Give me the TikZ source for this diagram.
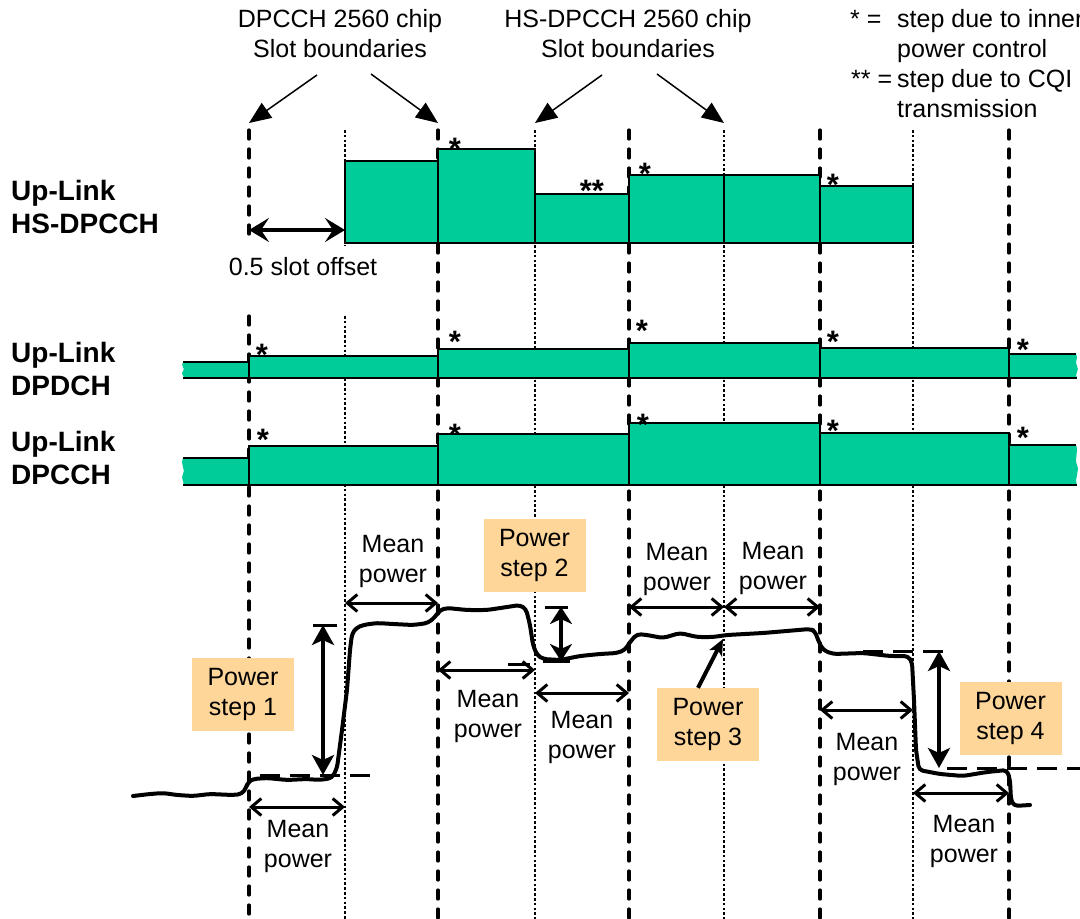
\documentclass[tikz,border=0pt]{standalone}
\usepackage{fontspec}
\setmainfont{Liberation Sans}
\usetikzlibrary{arrows.meta}
\definecolor{chgreen}{RGB}{0,204,153}
\definecolor{boxorange}{RGB}{255,214,153}
\begin{document}
\begin{tikzpicture}[x=1pt,y=-1pt,
  txt/.style={font=\fontsize{25}{30}\selectfont, inner sep=0pt, align=center},
  chlbl/.style={font=\fontsize{28}{33.5}\selectfont\bfseries, inner sep=0pt, align=left, anchor=north west},
  starlbl/.style={font=\fontsize{31}{31}\selectfont\bfseries, inner sep=0pt, anchor=base},
  slotdash/.style={line width=3.2pt, dash pattern=on 9pt off 10pt, line cap=round},
  slotdot/.style={line width=2.6pt, dash pattern=on 2.6pt off 2.2pt},
  bar/.style={fill=chgreen, draw=black, line width=1.8pt},
  edgeline/.style={draw=black, line width=1.8pt},
  pointer/.style={line width=1.5pt, -{Triangle[length=22pt,width=18pt]}},
  offsetarrow/.style={line width=4pt, {Stealth[length=20pt,width=24pt,inset=8pt]}-{Stealth[length=20pt,width=24pt,inset=8pt]}},
  meanarrow/.style={line width=3pt, {Straight Barb[length=10pt,width=17pt]}-{Straight Barb[length=10pt,width=17pt]}},
  steparrow/.style={line width=4pt, {Stealth[length=20pt,width=22pt,inset=5pt]}-{Stealth[length=20pt,width=22pt,inset=5pt]}},
  curve/.style={line width=4pt, rounded corners=4pt, line join=round, line cap=round},
  stepbox/.style={fill=boxorange, inner sep=0pt, minimum width=102pt, minimum height=73pt, align=center, font=\fontsize{25}{30}\selectfont},
  refline/.style={line width=3pt, dash pattern=on 20pt off 10pt},
  tick/.style={line width=3pt},
]
\useasboundingbox (0,0) rectangle (1080,919);

% ---------- slot boundary lines ----------
\draw[slotdash] (249,130) -- (249,243);
\draw[slotdash] (249,316) -- (249,919);
\foreach \x in {438,629,820,1009} \draw[slotdash] (\x,130) -- (\x,919);
\draw[slotdot] (345,130) -- (345,246);
\draw[slotdot] (345,316) -- (345,919);
\foreach \x in {535,724,913} \draw[slotdot] (\x,130) -- (\x,919);

% ---------- header texts ----------
\node[txt, anchor=north] (dpcchlbl) at (340,9) {DPCCH 2560 chip\\Slot boundaries};
\node[txt, anchor=north] (hslbl) at (628,9) {HS-DPCCH 2560 chip\\Slot boundaries};
\node[txt, anchor=base west] (leg1) at (850,27) {* =};
\node[txt, anchor=base west] (leg2) at (851,87) {** =};
\node[txt, anchor=north west, align=left] (leg1t) at (897,9) {step due to inner\\power control};
\node[txt, anchor=north west, align=left] (leg2t) at (897,69) {step due to CQI\\transmission};

\coordinate (p1) at (249,123);
\coordinate (p2) at (438,123);
\coordinate (p3) at (535,123);
\coordinate (p4) at (724,123);
\draw[pointer] (317,75) -- (p1);
\draw[pointer] (371,74) -- (p2);
\draw[pointer] (602,75) -- (p3);
\draw[pointer] (657,74) -- (p4);

% ---------- channel labels ----------
\node[chlbl] (lhs) at (11,180) {Up-Link\\HS-DPCCH};
\node[chlbl] (ldpdch) at (11,342) {Up-Link\\DPDCH};
\node[chlbl] (ldpcch) at (11,431) {Up-Link\\DPCCH};

% ---------- HS-DPCCH bars ----------
\draw[bar] (345,243) rectangle (438,161);
\draw[bar] (438,243) rectangle (535,149);
\draw[bar] (535,243) rectangle (629,194);
\draw[bar] (629,243) rectangle (724,175);
\draw[bar] (724,243) rectangle (820,175);
\draw[bar] (820,243) rectangle (913,186);
\node[starlbl] (hs1) at (455,159) {*};
\node[starlbl] (hs2) at (592,201) {**};
\node[starlbl] (hs3) at (645,184) {*};
\node[starlbl] (hs4) at (833,195) {*};

\coordinate (off1) at (249,230);
\coordinate (off2) at (345,230);
\draw[offsetarrow] (off1) -- (off2);
\node[txt, anchor=base] (offlbl) at (303,275) {0.5 slot offset};

% ---------- DPDCH ----------
\fill[chgreen] (249,362) -- (183,362) .. controls (180,366) and (186,369) .. (183,371) .. controls (180,374) and (185,376) .. (183,378) -- (249,378) -- cycle;
\draw[edgeline] (183,362) -- (249,362);
\draw[bar] (249,378) rectangle (438,356);
\draw[bar] (438,378) rectangle (629,349);
\draw[bar] (629,378) rectangle (820,343);
\draw[bar] (820,378) rectangle (1009,348);
\fill[chgreen] (1009,354) -- (1076,354) .. controls (1079,358) and (1074,362) .. (1077,366) .. controls (1080,370) and (1074,374) .. (1077,378) -- (1009,378) -- cycle;
\draw[edgeline] (1009,354) -- (1076,354);
\draw[edgeline] (183,378) -- (1077,378);
\draw[edgeline] (1009,378) -- (1009,348);
\node[starlbl] (d1) at (262,365) {*};
\node[starlbl] (d2) at (455,352) {*};
\node[starlbl] (d3) at (642,341) {*};
\node[starlbl] (d4) at (833,352) {*};
\node[starlbl] (d5) at (1023,360) {*};

% ---------- DPCCH ----------
\fill[chgreen] (249,458) -- (183,458) .. controls (180,465) and (186,470) .. (183,474) .. controls (180,478) and (185,482) .. (183,485) -- (249,485) -- cycle;
\draw[edgeline] (183,458) -- (249,458);
\draw[bar] (249,485) rectangle (438,446);
\draw[bar] (438,485) rectangle (629,434);
\draw[bar] (629,485) rectangle (820,423);
\draw[bar] (820,485) rectangle (1009,433);
\fill[chgreen] (1009,445) -- (1076,445) .. controls (1079,452) and (1074,458) .. (1077,465) .. controls (1080,472) and (1074,478) .. (1077,485) -- (1009,485) -- cycle;
\draw[edgeline] (1009,445) -- (1076,445);
\draw[edgeline] (183,485) -- (1077,485);
\draw[edgeline] (1009,485) -- (1009,433);
\node[starlbl] (c1) at (263,450) {*};
\node[starlbl] (c2) at (455,445) {*};
\node[starlbl] (c3) at (643,435) {*};
\node[starlbl] (c4) at (833,441) {*};
\node[starlbl] (c5) at (1023,448) {*};

% ---------- power curve ----------
\draw[curve] (133,796) -- (150,794) -- (163,793) -- (177,795) -- (193,796) -- (210,794) -- (233,795)
  -- (242,794) -- (246,788) -- (248,782) -- (253,779) -- (267,778) -- (287,780) -- (307,779) -- (320,780)
  -- (332,778) -- (337,768) -- (342,730) -- (347,690) -- (350,650) -- (352,634) -- (356,628) -- (363,625)
  -- (377,623) -- (393,624) -- (413,625) -- (428,623) -- (435,617) -- (440,610) -- (447,608) -- (467,610)
  -- (487,610) -- (507,607) -- (520,605) -- (526,609) -- (530,625) -- (533,645) -- (537,655) -- (543,659)
  -- (560,660) -- (580,656) -- (600,654) -- (617,653) -- (625,650) -- (630,642) -- (637,634) -- (647,635)
  -- (663,638) -- (680,633) -- (697,637) -- (713,637) -- (727,635) -- (763,633) -- (810,629) -- (815,631)
  -- (818,640) -- (823,650) -- (833,654) -- (863,653) -- (890,656) -- (908,656) -- (912,662) -- (914,700)
  -- (916,750) -- (919,770) -- (940,774) -- (963,776) -- (987,772) -- (1007,770) -- (1010,780)
  -- (1011,800) -- (1014,806) -- (1030,805);

% power step 1
\draw[refline] (260,775) -- (370,775);
\draw[tick] (313,625) -- (337,625);
\coordinate (s1t) at (323,625);
\coordinate (s1b) at (323,775);
\draw[steparrow] (s1t) -- (s1b);
% power step 2
\draw[tick] (545,607) -- (568,607);
\draw[tick] (543,661) -- (570,661);
\draw[tick] (508,664) -- (530,664);
\coordinate (s2t) at (561,607);
\coordinate (s2b) at (561,661);
\draw[line width=4pt, {Stealth[length=17pt,width=22pt,inset=5pt]}-{Stealth[length=17pt,width=22pt,inset=5pt]}] (s2t) -- (s2b);
% power step 4
\draw[refline] (863,651) -- (950,651);
\draw[refline] (947,768) -- (1080,768);
\coordinate (s4t) at (939,651);
\coordinate (s4b) at (939,768);
\draw[steparrow] (s4t) -- (s4b);

% ---------- mean power arrows ----------
\draw[meanarrow] (249,807) -- (345,807);
\draw[meanarrow] (345,603) -- (438,603);
\draw[meanarrow] (438,670) -- (535,670);
\draw[meanarrow] (535,693) -- (629,693);
\draw[meanarrow] (629,607) -- (724,607);
\draw[meanarrow] (724,607) -- (820,607);
\draw[meanarrow] (820,710) -- (913,710);
\draw[meanarrow] (913,793) -- (1009,793);

\node[txt, anchor=north] (mp1) at (298,820) {Mean\\power};
\node[txt, anchor=north] (mp2) at (393,535) {Mean\\power};
\node[txt, anchor=north] (mp3) at (488,690) {Mean\\power};
\node[txt, anchor=north] (mp4) at (582,711) {Mean\\power};
\node[txt, anchor=north] (mp5) at (677,543) {Mean\\power};
\node[txt, anchor=north] (mp6) at (773,542) {Mean\\power};
\node[txt, anchor=north] (mp7) at (867,733) {Mean\\power};
\node[txt, anchor=north] (mp8) at (964,815) {Mean\\power};

% ---------- power step boxes ----------
\node[stepbox] (ps1) at (243,694.5) {Power\\step 1};
\node[stepbox] (ps2) at (534.5,555.5) {Power\\step 2};
\node[stepbox] (ps3) at (708,724.5) {Power\\step 3};
\node[stepbox] (ps4) at (1010.5,718.5) {Power\\step 4};
\coordinate (c3tip) at (723,639);
\draw[line width=4pt, -{Stealth[length=16pt,width=14pt,inset=4pt]}] ([xshift=-10pt]ps3.north) -- (c3tip);
\end{tikzpicture}
\end{document}
